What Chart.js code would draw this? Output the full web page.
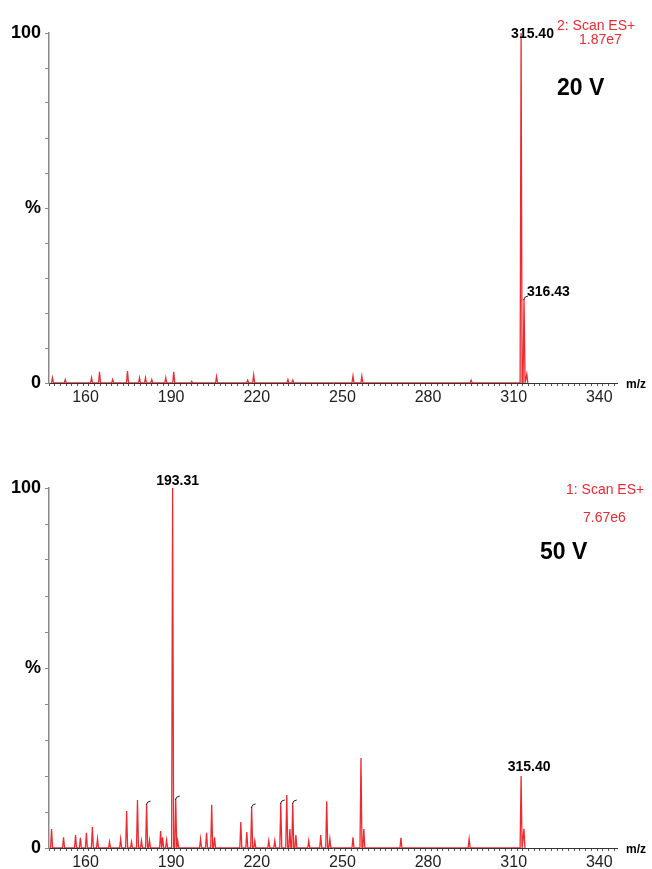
<!DOCTYPE html>
<html>
<head>
<meta charset="utf-8">
<script src="https://cdn.jsdelivr.net/npm/chart.js@4.4.1/dist/chart.umd.min.js"></script>
<style>
  body { margin: 0; background: #fff; }
  canvas { display: block; }
  #top { position: absolute; left: 0; top: 0; }
  #bottom { position: absolute; left: 0; top: 440px; }
</style>
</head>
<body>
<canvas id="top" width="652" height="420"></canvas>
<canvas id="bottom" width="652" height="429"></canvas>
<script>
// Eje x (m/z) y eje y (%)
const xTickLabels = [160, 190, 220, 250, 280, 310, 340];
const yTickValues = [0, 50, 100];
const yTickLabels = ['0', '%', '100'];

// Espectro a 20 V (picos: m/z, intensidad relativa %)
const mz20 = [151.2, 155.7, 164.9, 167.7, 172.3, 177.5, 181.7, 183.8, 186.0, 190.9,
  193.7, 200.0, 208.7, 219.6, 221.7, 233.7, 235.4, 256.5, 259.6, 297.9,
  315.40, 316.43, 317.4];
const int20 = [1.5, 1.0, 1.5, 3.2, 1.0, 3.4, 1.5, 1.5, 1.0, 1.5,
  3.2, 0.5, 1.8, 0.8, 2.3, 1.0, 0.8, 2.0, 2.0, 0.8,
  100, 24, 2.5];

// Espectro a 50 V
const mz50 = [150.9, 155.1, 159.3, 161.0, 163.1, 165.2, 167.0, 171.2, 175.1, 177.2,
  178.9, 181.0, 182.4, 184.2, 185.2, 189.1, 189.8, 191.2, 193.31, 194.4,
  195.1, 203.1, 205.2, 207.0, 208.0, 217.2, 219.3, 221.0, 222.1, 227.0,
  229.1, 231.2, 233.3, 234.4, 235.4, 236.5, 241.0, 245.2, 247.3, 248.4,
  256.5, 259.3, 260.3, 273.3, 297.2, 315.40, 316.4];
const int50 = [5.3, 3.0, 3.6, 2.8, 4.2, 5.8, 2.5, 1.7, 2.5, 10.3,
  1.7, 13.3, 2.0, 12.2, 2.2, 4.7, 3.0, 2.2, 100, 13.6,
  2.0, 2.5, 4.2, 12.0, 3.0, 7.2, 4.4, 11.4, 2.0, 2.0,
  2.0, 12.5, 14.7, 5.3, 12.5, 3.6, 2.0, 3.6, 13.0, 2.5,
  3.0, 25.0, 5.3, 2.8, 2.5, 20.0, 5.3];

// Picos con marca (gancho)
const hooks50 = [184.2, 194.4, 221.0, 231.2, 235.4];
const hooks20 = [316.43];

const FONT = "'Liberation Sans', Arial, Helvetica, sans-serif";
const RED = '#ec2a30';

// convierte la lista de picos en trazo de perfil (cada pico como un pico estrecho)
function perfil(mz, inten) {
  const pts = [];
  const w = 0.35;
  for (let i = 0; i < mz.length; i++) {
    pts.push({ x: mz[i] - w, y: 0 });
    pts.push({ x: mz[i], y: inten[i] });
    pts.push({ x: mz[i] + w, y: 0 });
  }
  return pts;
}

// Textos sobre el gráfico
const textosPlugin = {
  id: 'textos',
  afterDatasetsDraw(chart, args, opts) {
    const ctx = chart.ctx;
    const xs = chart.scales.x, ys = chart.scales.y;
    const area = chart.chartArea;
    ctx.save();
    ctx.textBaseline = 'middle';
    (opts.items || []).forEach(t => {
      let px, py;
      if (t.mz !== undefined) {
        px = xs.getPixelForValue(t.mz) + (t.dx || 0);
        py = ys.getPixelForValue(t.val) + (t.dy || 0);
      } else {
        px = t.px; py = t.py;
      }
      ctx.font = t.font;
      ctx.fillStyle = t.color || '#000';
      ctx.textAlign = t.align || 'left';
      ctx.fillText(t.text, px, py);
    });
    // marcas de picos
    ctx.strokeStyle = '#222';
    ctx.lineWidth = 1;
    (opts.hooks || []).forEach(h => {
      const px = xs.getPixelForValue(h.mz);
      const py = ys.getPixelForValue(h.val);
      ctx.beginPath();
      ctx.moveTo(px - 0.5, py + 1);
      ctx.quadraticCurveTo(px + 0.5, py - 3, px + 4, py - 3);
      ctx.stroke();
    });
    // m/z
    ctx.font = 'bold 12px ' + FONT;
    ctx.fillStyle = '#000';
    ctx.textAlign = 'left';
    ctx.fillText('m/z', area.right + 9, area.bottom + 2);
    ctx.restore();
  }
};

function crearEspectro(canvasId, mz, inten, topPad, xHeight, items, hooks) {
  const ctx = document.getElementById(canvasId).getContext('2d');
  new Chart(ctx, {
    type: 'line',
    data: {
      datasets: [{
        data: perfil(mz, inten),
        borderColor: RED,
        borderWidth: 1.3,
        pointRadius: 0,
        tension: 0,
        fill: false
      }]
    },
    options: {
      responsive: false,
      animation: false,
      events: [],
      layout: { padding: { left: 0, right: 35, top: topPad, bottom: 0 } },
      plugins: {
        legend: { display: false },
        tooltip: { enabled: false },
        textos: { items: items, hooks: hooks }
      },
      scales: {
        x: {
          type: 'linear',
          min: 150,
          max: 349,
          afterBuildTicks: s => {
            const t = [];
            for (let v = 150; v <= 348; v += 2) t.push({ value: v });
            s.ticks = t;
          },
          afterFit: s => { s.height = xHeight; },
          border: { color: '#333', width: 1 },
          grid: { drawOnChartArea: false, tickLength: 3, tickColor: '#555', tickWidth: 1 },
          ticks: {
            autoSkip: false,
            maxRotation: 0,
            minRotation: 0,
            padding: 2,
            labelOffset: 8,
            color: '#222',
            font: { family: FONT, size: 16 },
            callback: v => xTickLabels.includes(v) ? String(v) : ''
          }
        },
        y: {
          min: 0,
          max: 100,
          afterBuildTicks: s => {
            const t = [];
            for (let v = 0; v <= 100; v += 10) t.push({ value: v });
            s.ticks = t;
          },
          afterFit: s => { s.width = 49; },
          border: { color: '#8a8a8a', width: 1.5 },
          grid: { drawOnChartArea: false, tickLength: 4, tickColor: '#8a8a8a' },
          ticks: {
            padding: 4,
            color: '#000',
            font: { family: FONT, size: 18, weight: 'bold' },
            callback: v => {
              const i = yTickValues.indexOf(v);
              return i >= 0 ? yTickLabels[i] : '';
            }
          }
        }
      }
    },
    plugins: [textosPlugin]
  });
}

const boldLbl = 'bold 14px ' + FONT;

crearEspectro('top', mz20, int20, 33, 37, [
  { text: '315.40', mz: 315.40, val: 100, dx: -10, dy: 1, font: boldLbl },
  { text: '316.43', mz: 316.43, val: 24, dx: 3, dy: -7, font: boldLbl },
  { text: '2: Scan ES+', px: 557, py: 26, font: '14px ' + FONT, color: RED },
  { text: '1.87e7', px: 579, py: 40, font: '14px ' + FONT, color: RED },
  { text: '20 V', px: 557, py: 89, font: 'bold 23px ' + FONT }
], hooks20.map(m => ({ mz: m, val: int20[mz20.indexOf(m)] })));

crearEspectro('bottom', mz50, int50, 48, 21, [
  { text: '193.31', mz: 193.31, val: 100, dx: 5, dy: -7, font: boldLbl, align: 'center' },
  { text: '315.40', mz: 315.40, val: 20, dx: 8, dy: -9, font: boldLbl, align: 'center' },
  { text: '1: Scan ES+', px: 566, py: 50, font: '14px ' + FONT, color: RED },
  { text: '7.67e6', px: 583, py: 78, font: '14px ' + FONT, color: RED },
  { text: '50 V', px: 540, py: 113, font: 'bold 23px ' + FONT }
], hooks50.map(m => ({ mz: m, val: int50[mz50.indexOf(m)] })));
</script>
</body>
</html>
